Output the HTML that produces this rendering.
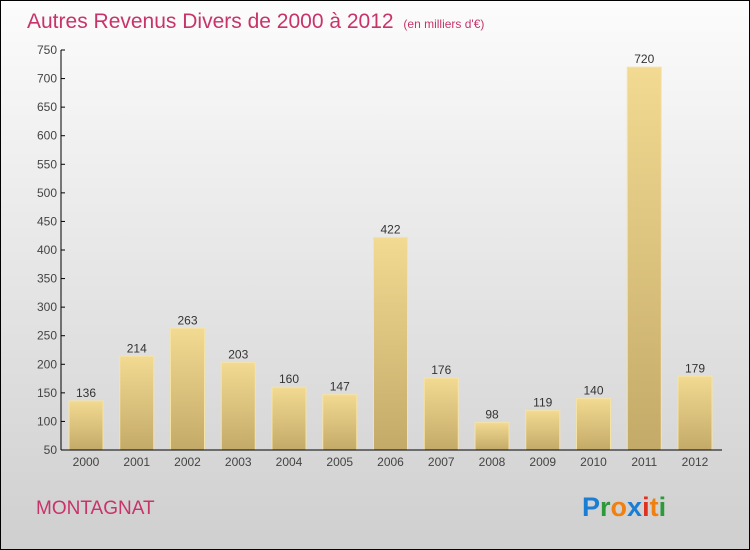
<!DOCTYPE html>
<html><head><meta charset="utf-8"><style>
body{margin:0;}
svg{display:block;font-family:"Liberation Sans",sans-serif;}
</style></head><body>
<svg width="750" height="550" viewBox="0 0 750 550">
<defs>
<linearGradient id="bg" x1="0" y1="0" x2="0" y2="1"><stop offset="0" stop-color="#fcfcfc"/><stop offset="1" stop-color="#cfcfcf"/></linearGradient>
<linearGradient id="bar" x1="0" y1="0" x2="0" y2="1"><stop offset="0" stop-color="#f2da92"/><stop offset="1" stop-color="#c4aa68"/></linearGradient>
</defs>
<rect x="0.5" y="0.5" width="749" height="549" fill="url(#bg)" stroke="#000"/>
<text x="27" y="28" font-size="21" fill="#c8336a">Autres Revenus Divers de 2000 à 2012 <tspan font-size="12" dx="4">(en milliers d'€)</tspan></text>
<g id="plot"></g>
<text x="36" y="514" font-size="19" fill="#c8336a">MONTAGNAT</text>
<text x="582" y="516" font-size="27" font-weight="bold"><tspan fill="#1a7fd4">P</tspan><tspan fill="#2a9a3a">r</tspan><tspan fill="#f08010">o</tspan><tspan fill="#1a7fd4">x</tspan><tspan fill="#e03020">i</tspan><tspan fill="#f08010">t</tspan><tspan fill="#2a9a3a">i</tspan></text>
</svg>
<script>
const years=["2000","2001","2002","2003","2004","2005","2006","2007","2008","2009","2010","2011","2012"];
const values=[136,214,263,203,160,147,422,176,98,119,140,720,179];
const yTicks=[50,100,150,200,250,300,350,400,450,500,550,600,650,700,750];
const NS="http://www.w3.org/2000/svg";
const plotG=document.getElementById('plot');
const yMin=50,yMax=750,plotTop=50,plotBottom=450,plotLeft=61,step=50.75,firstX=86,bw=34;
function Y(v){return plotBottom-(v-yMin)/(yMax-yMin)*(plotBottom-plotTop);}
function X(i){return firstX+i*step;}
function mk(t,a){const e=document.createElementNS(NS,t);for(const k in a)e.setAttribute(k,a[k]);plotG.appendChild(e);return e;}
yTicks.forEach(v=>{
 const l=mk('line',{x1:plotLeft,x2:plotLeft+4,y1:Y(v),y2:Y(v),stroke:'#000'});
 
 
 const t=mk('text',{x:plotLeft-4,y:Y(v)+4,'font-size':12,'text-anchor':'end',fill:'#444'});
 t.textContent=v;
 
 
});
values.forEach((v,i)=>{
 const r=mk('rect',{x:X(i)-bw/2,y:Y(v),width:bw,height:plotBottom-Y(v),fill:'url(#bar)',stroke:'#f5e3a6','stroke-width':1});
 
 
 const t=mk('text',{x:X(i),y:Y(v)-4,'font-size':12,'text-anchor':'middle',fill:'#333'});
 t.textContent=v;
 
 
 const xl=mk('text',{x:X(i),y:466,'font-size':12,'text-anchor':'middle',fill:'#444'});
 xl.textContent=years[i];
 
 
});
const ya=mk('line',{x1:plotLeft,x2:plotLeft,y1:plotTop,y2:plotBottom,stroke:'#000'});


const xa=mk('line',{x1:plotLeft,x2:722,y1:plotBottom,y2:plotBottom,stroke:'#000'});


</script>
</body></html>
